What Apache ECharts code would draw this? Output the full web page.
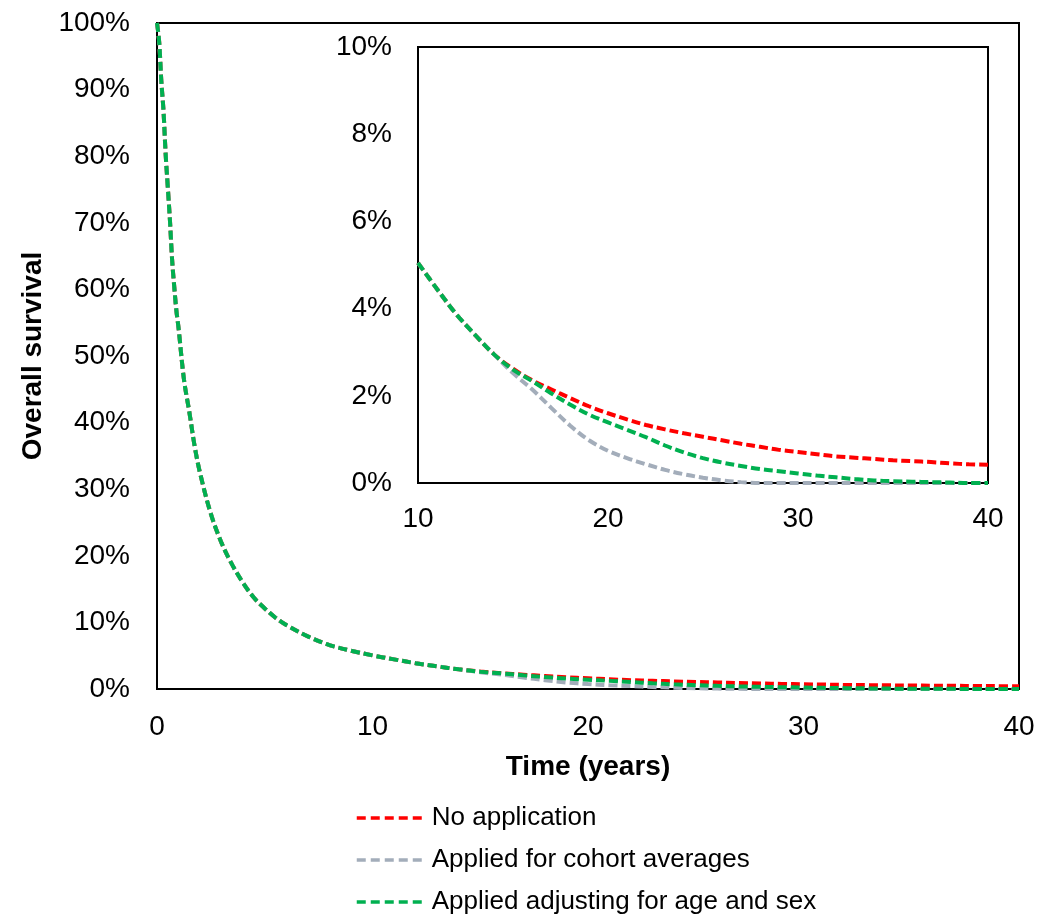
<!DOCTYPE html>
<html>
<head>
<meta charset="utf-8">
<script src="https://cdn.jsdelivr.net/npm/echarts@6/dist/echarts.min.js"></script>
<style>
    html, body { margin: 0; padding: 0; background: #fff; }
    #chart { width: 1051px; height: 916px; }
</style>
</head>
<body>
<div id="chart"></div>
<script>
// time in years, survival in %
const timeYears = [0, 0.1, 0.2, 0.3, 0.4, 0.5, 0.6, 0.7, 0.8, 0.9, 1, 1.25, 1.5, 1.75, 2, 2.5, 3, 3.5, 4, 4.5, 5, 5.5, 6, 7, 8, 9,
    10, 11, 12, 13, 14, 15, 16, 17, 18, 19, 20, 21, 22, 23, 24, 25, 26, 27, 28, 29, 30, 31, 32, 33, 34, 35, 36, 37, 38, 39, 40];

const noApplication = [100, 97.2, 91.3, 86.9, 80.4, 75.4, 70.4, 64.5, 60.4, 56.8, 54.2, 46.5, 41.6, 36.4, 32.4, 26.3, 21.9, 18.6, 15.9, 13.7, 12.1, 10.7, 9.6, 7.9, 6.6, 5.75,
    5.05, 4.45, 3.88, 3.4, 2.95, 2.62, 2.36, 2.15, 1.95, 1.76, 1.6, 1.46, 1.33, 1.23, 1.14, 1.06, 0.98, 0.9, 0.83, 0.76, 0.71, 0.66, 0.61, 0.58, 0.55, 0.52, 0.5, 0.48, 0.45, 0.43, 0.42];

const cohortAverages = [100, 97.2, 91.3, 86.9, 80.4, 75.4, 70.4, 64.5, 60.4, 56.8, 54.2, 46.5, 41.6, 36.4, 32.4, 26.3, 21.9, 18.6, 15.9, 13.7, 12.1, 10.7, 9.6, 7.9, 6.6, 5.75,
    5.05, 4.45, 3.88, 3.4, 2.95, 2.52, 2.15, 1.73, 1.32, 0.98, 0.74, 0.57, 0.43, 0.3, 0.2, 0.12, 0.06, 0.02, 0, 0, 0, 0, 0, 0, 0, 0, 0, 0, 0, 0, 0];

const ageSexAdjusted = [100, 97.2, 91.3, 86.9, 80.4, 75.4, 70.4, 64.5, 60.4, 56.8, 54.2, 46.5, 41.6, 36.4, 32.4, 26.3, 21.9, 18.6, 15.9, 13.7, 12.1, 10.7, 9.6, 7.9, 6.6, 5.75,
    5.05, 4.45, 3.88, 3.4, 2.95, 2.6, 2.34, 2.06, 1.8, 1.57, 1.39, 1.22, 1.05, 0.86, 0.7, 0.57, 0.47, 0.39, 0.32, 0.27, 0.22, 0.17, 0.13, 0.09, 0.06, 0.04, 0.03, 0.02, 0.01, 0, 0];

const seriesNames = ['No application', 'Applied for cohort averages', 'Applied adjusting for age and sex'];
const seriesColors = ['#FF0000', '#A3ADBA', '#00B050'];
const seriesValues = [noApplication, cohortAverages, ageSexAdjusted];

const FONT = "'Liberation Sans', Arial, sans-serif";
const insetStart = timeYears.indexOf(10);

const pairs = (vals, from) => timeYears.slice(from).map((t, i) => [t, vals[from + i]]);

const lineSeries = (idx, gridIdx, from) => ({
    name: seriesNames[idx],
    type: 'line',
    xAxisIndex: gridIdx,
    yAxisIndex: gridIdx,
    data: pairs(seriesValues[idx], from),
    symbol: 'none',
    smooth: 0.35,
    lineStyle: { color: seriesColors[idx], width: 4, type: [9, 4] },
    itemStyle: { color: seriesColors[idx] },
    z: 3 + idx
});

const tickLabel = { fontFamily: FONT, fontSize: 28, color: '#000' };

const chart = echarts.init(document.getElementById('chart'));
chart.setOption({
    backgroundColor: '#fff',
    animation: false,
    grid: [
        { left: 157, top: 23, width: 862, height: 666, show: true, borderColor: '#000', borderWidth: 2, backgroundColor: 'transparent' },
        { left: 418, top: 47, width: 570, height: 436, show: true, borderColor: '#000', borderWidth: 2, backgroundColor: '#fff' }
    ],
    xAxis: [
        {
            gridIndex: 0, type: 'value', min: 0, max: 40, interval: 10,
            name: 'Time (years)', nameLocation: 'middle', nameGap: 64,
            nameTextStyle: { fontFamily: FONT, fontSize: 28, fontWeight: 'bold', color: '#000' },
            axisLine: { show: false }, axisTick: { show: false }, splitLine: { show: false },
            axisLabel: { ...tickLabel, margin: 24 }
        },
        {
            gridIndex: 1, type: 'value', min: 10, max: 40, interval: 10,
            axisLine: { show: false }, axisTick: { show: false }, splitLine: { show: false },
            axisLabel: { ...tickLabel, margin: 22 }
        }
    ],
    yAxis: [
        {
            gridIndex: 0, type: 'value', min: 0, max: 100, interval: 10,
            name: 'Overall survival', nameLocation: 'middle', nameGap: 110, nameRotate: 90,
            nameTextStyle: { fontFamily: FONT, fontSize: 28, fontWeight: 'bold', color: '#000' },
            axisLine: { show: false }, axisTick: { show: false }, splitLine: { show: false },
            axisLabel: { ...tickLabel, margin: 27, formatter: '{value}%' }
        },
        {
            gridIndex: 1, type: 'value', min: 0, max: 10, interval: 2,
            axisLine: { show: false }, axisTick: { show: false }, splitLine: { show: false },
            axisLabel: { ...tickLabel, margin: 26, formatter: '{value}%' }
        }
    ],
    legend: {
        orient: 'vertical',
        left: 355,
        top: 805,
        padding: 0,
        itemWidth: 70,
        itemHeight: 14,
        itemGap: 16,
        data: seriesNames,
        itemStyle: { opacity: 0 },
        lineStyle: { width: 3.5, type: [9, 5] },
        textStyle: { fontFamily: FONT, fontSize: 26, color: '#000', lineHeight: 26 }
    },
    series: [
        lineSeries(0, 0, 0), lineSeries(1, 0, 0), lineSeries(2, 0, 0),
        lineSeries(0, 1, insetStart), lineSeries(1, 1, insetStart), lineSeries(2, 1, insetStart)
    ]
});
</script>
</body>
</html>
